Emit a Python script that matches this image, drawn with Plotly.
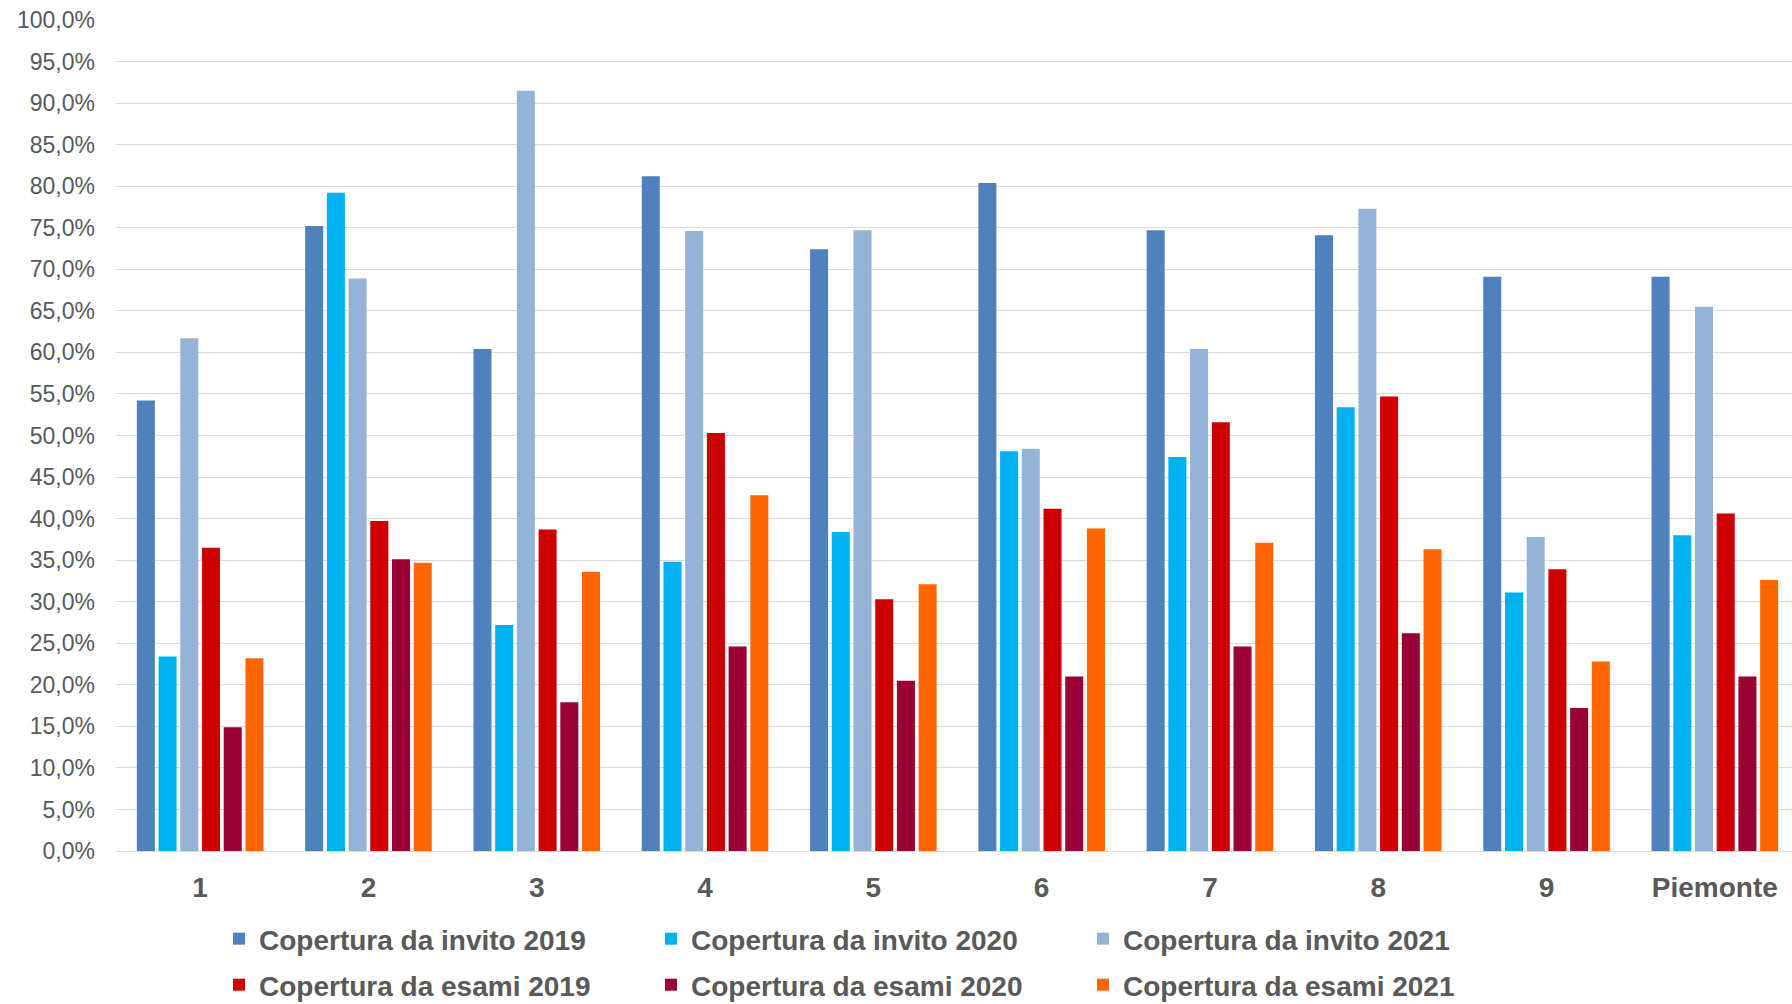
import plotly.graph_objects as go

# Districts and regional total
categories = ["1", "2", "3", "4", "5", "6", "7", "8", "9", "Piemonte"]

# Coverage values (%)
invito_2019 = [54.2, 75.2, 60.4, 81.2, 72.4, 80.4, 74.7, 74.1, 69.1, 69.1]
invito_2020 = [23.4, 79.2, 27.2, 34.8, 38.4, 48.1, 47.4, 53.4, 31.1, 38.0]
invito_2021 = [61.7, 68.9, 91.5, 74.6, 74.7, 48.4, 60.4, 77.3, 37.8, 65.5]
esami_2019 = [36.5, 39.7, 38.7, 50.3, 30.3, 41.2, 51.6, 54.7, 33.9, 40.6]
esami_2020 = [14.9, 35.1, 17.9, 24.6, 20.5, 21.0, 24.6, 26.2, 17.2, 21.0]
esami_2021 = [23.2, 34.7, 33.6, 42.8, 32.1, 38.8, 37.1, 36.3, 22.8, 32.6]

series_names = [
    "Copertura da invito 2019",
    "Copertura da invito 2020",
    "Copertura da invito 2021",
    "Copertura da esami 2019",
    "Copertura da esami 2020",
    "Copertura da esami 2021",
]
series_values = [invito_2019, invito_2020, invito_2021, esami_2019, esami_2020, esami_2021]
series_colors = ["#4F81BD", "#00B0F0", "#95B3D7", "#CC0000", "#990033", "#FF6600"]
# first row of the legend: "invito" series, second row: "esami" series
series_legend = ["legend", "legend", "legend", "legend2", "legend2", "legend2"]

fig = go.Figure()
for name, vals, color, lg in zip(series_names, series_values, series_colors, series_legend):
    fig.add_trace(go.Bar(
        x=categories, y=vals, name=name, legend=lg,
        marker=dict(color=color, line=dict(width=0)),
        hovertemplate="%{x}: %{y:.1f}%<extra>" + name + "</extra>",
    ))

W, H = 1792, 1004
left, top, bottom = 116, 20, 152.5
group_px = 168.3

legend_common = dict(
    orientation="h",
    xref="container", yref="container",
    xanchor="left", yanchor="top",
    entrywidth=387, entrywidthmode="pixels",
    font=dict(size=28, color="#595959", weight="bold"),
    traceorder="normal",
    bgcolor="rgba(0,0,0,0)",
    itemclick=False,
)

fig.update_layout(
    width=W, height=H,
    margin=dict(l=left, r=0, t=top, b=bottom, pad=0),
    paper_bgcolor="white", plot_bgcolor="white",
    barmode="group", bargap=0.226, bargroupgap=0.17,
    separators=",.",
    font=dict(family="Liberation Sans, Arial, sans-serif", color="#595959"),
    showlegend=True,
    legend=dict(legend_common, x=219 / W, y=1 - 914 / H),
    legend2=dict(legend_common, x=219 / W, y=1 - 960 / H),
)

fig.update_xaxes(
    type="category",
    range=[-0.5, -0.5 + (W - left) / group_px],
    showgrid=False, zeroline=False, showline=False,
    ticks="",
    tickfont=dict(size=28, color="#595959", weight="bold"),
    ticklabelstandoff=17,
)

fig.update_yaxes(
    range=[0, 100], dtick=5, tick0=0,
    tickformat=".1f", ticksuffix="%",
    showgrid=True, gridcolor="#D9D9D9", gridwidth=1,
    zeroline=True, zerolinecolor="#D9D9D9", zerolinewidth=1,
    showline=False, ticks="",
    tickfont=dict(size=23, color="#595959"),
    ticklabelstandoff=20,
)

fig.write_html("out.html")
